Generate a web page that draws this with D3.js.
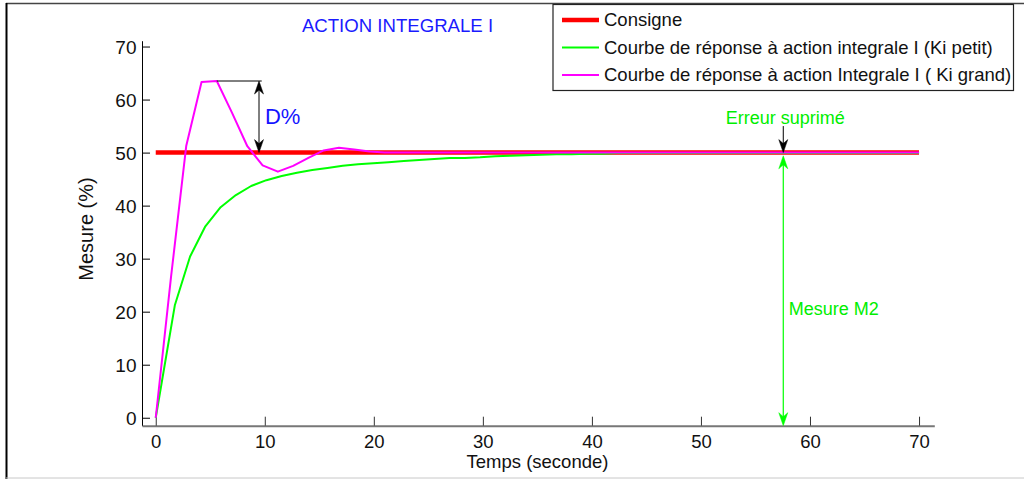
<!DOCTYPE html>
<html>
<head>
<meta charset="utf-8">
<script src="https://cdn.jsdelivr.net/npm/d3@7"></script>
<style>
  html, body { margin: 0; padding: 0; background: #fff; }
  svg { display: block; font-family: "Liberation Sans", Arial, sans-serif; }
</style>
</head>
<body>
<svg id="chart" width="1024" height="479"></svg>
<script>
// Setpoint (consigne)
const tConsigne = [0, 70];
const vConsigne = [50, 50];

// Response with small integral gain (Ki petit)
const tKiPetit = [0, 1.75, 3.15, 4.55, 5.95, 7.35, 8.75, 10.15, 11.55, 12.95, 14.35, 15.75,
  17.15, 18.55, 19.95, 21.35, 22.75, 24.15, 25.55, 26.95, 28.35, 29.75, 31.15, 32.55,
  33.95, 35.35, 36.75, 38.15, 39.55, 40.95, 42.35, 43.75, 45.15, 70];
const vKiPetit = [0, 21.2, 30.4, 36.1, 39.7, 42.0, 43.7, 44.8, 45.6, 46.2, 46.7, 47.1,
  47.5, 47.8, 48.0, 48.2, 48.4, 48.6, 48.8, 49.0, 49.0, 49.1, 49.3, 49.4,
  49.5, 49.6, 49.7, 49.7, 49.8, 49.8, 49.9, 49.9, 49.9, 49.9];

// Response with large integral gain (Ki grand)
const tKiGrand = [0, 1.4, 2.8, 4.2, 5.6, 7.0, 8.4, 9.8, 11.2, 12.6, 14.0, 15.4, 16.8,
  18.2, 19.6, 21.0, 22.4, 70];
const vKiGrand = [0, 26.5, 51.3, 63.3, 63.5, 57.5, 51.2, 47.6, 46.4, 47.5, 49.0, 50.4, 50.9,
  50.6, 50.2, 50.0, 50.0, 50.0];

// Axis ticks
const xTicks = [0, 10, 20, 30, 40, 50, 60, 70];
const yTicks = [0, 10, 20, 30, 40, 50, 60, 70];

// Texts
const titleText = "ACTION INTEGRALE I";
const xLabel = "Temps (seconde)";
const yLabel = "Mesure (%)";
const legendLabels = [
  "Consigne",
  "Courbe de réponse à action integrale I (Ki petit)",
  "Courbe de réponse à action Integrale I ( Ki grand)"
];
const seriesColors = ["#ff0000", "#00ff00", "#ff00ff"];

// Annotations (data units)
const overshootX = 9.47;      // D% double arrow
const overshootLineEnd = 9.72;
const errorArrowX = 57.55;    // "Erreur suprimé" / "Mesure M2" arrows
const errorArrowTop = 55.0;

const svg = d3.select("#chart");

// Figure frame
svg.append("line").attr("x1", 6).attr("x2", 1024).attr("y1", 3.5).attr("y2", 3.5)
  .attr("stroke", "#444").attr("stroke-width", 1.5);
svg.append("line").attr("x1", 6.5).attr("x2", 6.5).attr("y1", 3).attr("y2", 479)
  .attr("stroke", "#000").attr("stroke-width", 2);
svg.append("line").attr("x1", 6).attr("x2", 1024).attr("y1", 478).attr("y2", 478)
  .attr("stroke", "#c8c8c8").attr("stroke-width", 1);

const x = d3.scaleLinear().domain([-1.26, 71.4]).range([142, 934.3]);
const y = d3.scaleLinear().domain([-1.5, 71.1]).range([425.7, 40.7]);

// Y axis
const yAxis = svg.append("g").attr("transform", `translate(${x.range()[0]},0)`)
  .call(d3.axisLeft(y).tickValues(yTicks).tickSizeInner(-8).tickSizeOuter(0).tickPadding(5.5)
    .tickFormat(d3.format("d")));
yAxis.select(".domain").attr("stroke", "#000").attr("stroke-width", 1);
yAxis.selectAll(".tick line").attr("stroke", "#000");
yAxis.selectAll(".tick text").attr("font-size", 19).attr("fill", "#111")
  .attr("font-family", "Liberation Sans, Arial, sans-serif").attr("dy", "0.34em");

// X axis
const xAxis = svg.append("g").attr("transform", `translate(0,${y.range()[0]})`)
  .call(d3.axisBottom(x).tickValues(xTicks).tickSizeInner(-9).tickSizeOuter(0).tickPadding(9)
    .tickFormat(d3.format("d")));
xAxis.select(".domain").attr("stroke", "#777").attr("stroke-width", 2);
xAxis.selectAll(".tick line").attr("stroke", "#333");
xAxis.selectAll(".tick text").attr("font-size", 18.5).attr("fill", "#111")
  .attr("font-family", "Liberation Sans, Arial, sans-serif");

// Curves
const line = d3.line().x(d => x(d[0])).y(d => y(d[1]));
const zip = (ts, vs) => ts.map((t, i) => [t, vs[i]]);

svg.append("path").datum(zip(tConsigne, vConsigne)).attr("d", line)
  .attr("fill", "none").attr("stroke", seriesColors[0]).attr("stroke-width", 4.5);
svg.append("path").datum(zip(tKiPetit, vKiPetit)).attr("d", line)
  .attr("fill", "none").attr("stroke", seriesColors[1]).attr("stroke-width", 2)
  .attr("stroke-linejoin", "round");
svg.append("path").datum(zip(tKiGrand, vKiGrand)).attr("d", line)
  .attr("fill", "none").attr("stroke", seriesColors[2]).attr("stroke-width", 2)
  .attr("stroke-linejoin", "round");

// Arrowhead: tip at (tx,ty), pointing along (dx,dy)
function arrowHead(g, tx, ty, dx, dy, color) {
  const L = 13, w = 4.5, n = 4;
  const px = -dy, py = dx;
  const pts = [
    [tx, ty],
    [tx - L * dx + w * px, ty - L * dy + w * py],
    [tx - (L - n) * dx, ty - (L - n) * dy],
    [tx - L * dx - w * px, ty - L * dy - w * py]
  ];
  g.append("path").attr("d", "M" + pts.map(p => p.join(",")).join("L") + "Z")
    .attr("fill", color).attr("stroke", color).attr("stroke-width", 0.5);
}

const ann = svg.append("g");
const peak = d3.max(vKiGrand);
const peakT = tKiGrand[vKiGrand.indexOf(peak)];
const setpoint = vConsigne[0];

// Overshoot marker
ann.append("line").attr("x1", x(peakT)).attr("x2", x(overshootLineEnd))
  .attr("y1", y(peak)).attr("y2", y(peak)).attr("stroke", "#000").attr("stroke-width", 1);
ann.append("line").attr("x1", x(overshootX)).attr("x2", x(overshootX))
  .attr("y1", y(peak) + 4).attr("y2", y(setpoint) - 4).attr("stroke", "#000").attr("stroke-width", 1);
arrowHead(ann, x(overshootX), y(peak), 0, -1, "#000");
arrowHead(ann, x(overshootX), y(setpoint), 0, 1, "#000");
ann.append("text").attr("x", x(10.02)).attr("y", y(55.4)).text("D%")
  .attr("font-size", 22).attr("fill", "#1515ff");

// Error removed marker
ann.append("line").attr("x1", x(errorArrowX)).attr("x2", x(errorArrowX))
  .attr("y1", y(errorArrowTop)).attr("y2", y(setpoint) - 4).attr("stroke", "#000").attr("stroke-width", 1);
arrowHead(ann, x(errorArrowX), y(setpoint), 0, 1, "#000");
ann.append("text").attr("x", x(52.27)).attr("y", y(55.4)).text("Erreur suprimé")
  .attr("font-size", 18).attr("fill", "#00ee00");

// Measured value marker
const yBottom = y.domain()[0];
ann.append("line").attr("x1", x(errorArrowX)).attr("x2", x(errorArrowX))
  .attr("y1", y(49.4) + 4).attr("y2", y(yBottom) - 4).attr("stroke", "#00ff00").attr("stroke-width", 1.2);
arrowHead(ann, x(errorArrowX), y(49.4), 0, -1, "#00ff00");
arrowHead(ann, x(errorArrowX), y(yBottom), 0, 1, "#00ff00");
ann.append("text").attr("x", x(58.05)).attr("y", y(19.4)).text("Mesure M2")
  .attr("font-size", 18).attr("fill", "#00ee00");

// Title and axis labels
svg.append("text").attr("x", 397.5).attr("y", 32).attr("text-anchor", "middle")
  .attr("font-size", 18.6).attr("fill", "#1a1aff").text(titleText);
svg.append("text").attr("x", 537.5).attr("y", 468).attr("text-anchor", "middle")
  .attr("font-size", 18.5).attr("fill", "#111").text(xLabel);
svg.append("text").attr("transform", "translate(93,229) rotate(-90)").attr("text-anchor", "middle")
  .attr("font-size", 20).attr("fill", "#111").text(yLabel);

// Legend
const lg = svg.append("g");
lg.append("rect").attr("x", 553).attr("y", 4.5).attr("width", 460.5).attr("height", 86)
  .attr("fill", "#fff").attr("stroke", "#222").attr("stroke-width", 1.2);
const rowY = [20, 47.5, 75];
const rowW = [4.5, 2, 2];
legendLabels.forEach((lab, i) => {
  lg.append("line").attr("x1", 562).attr("x2", 599).attr("y1", rowY[i]).attr("y2", rowY[i])
    .attr("stroke", seriesColors[i]).attr("stroke-width", rowW[i]);
  lg.append("text").attr("x", 604).attr("y", rowY[i]).attr("dy", "0.35em")
    .attr("font-size", 18.5).attr("fill", "#111").text(lab);
});
</script>
</body>
</html>
